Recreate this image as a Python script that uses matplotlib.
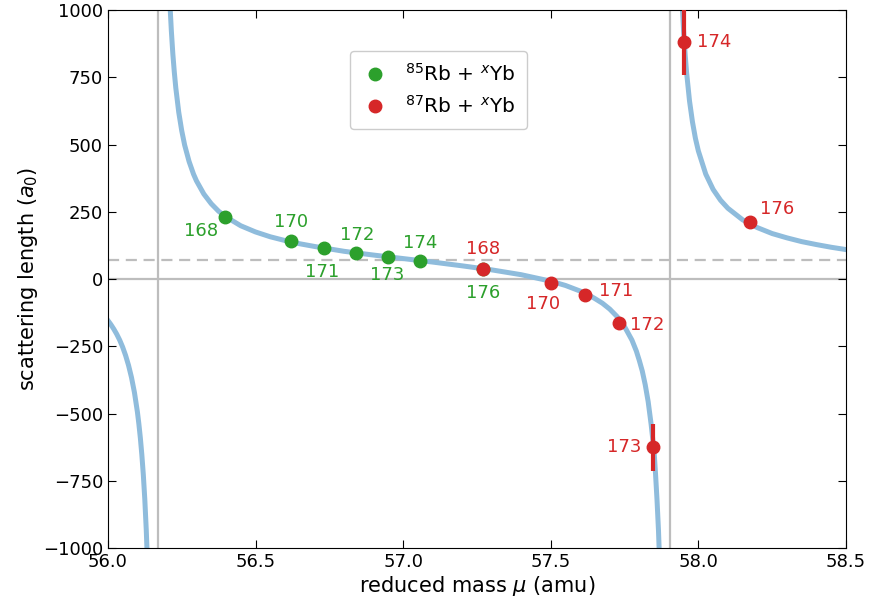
import numpy as np
import matplotlib.pyplot as plt
from matplotlib.lines import Line2D

# model curve, three branches separated by the two poles
mu_left = [55.98, 55.99, 56.00, 56.01, 56.02, 56.03, 56.04, 56.05, 56.06, 56.07,
           56.08, 56.09, 56.10, 56.105, 56.11, 56.115, 56.12, 56.125, 56.13, 56.135]
a_left = [-128, -140, -154, -169, -186, -205, -227, -253, -284, -321,
          -366, -422, -494, -539, -591, -653, -727, -818, -933, -1081]

mu_mid = [56.205, 56.21, 56.215, 56.22, 56.225, 56.23, 56.24, 56.25, 56.26, 56.275,
          56.29, 56.30, 56.325, 56.35, 56.375, 56.40, 56.45, 56.50, 56.55, 56.60,
          56.65, 56.70, 56.80, 56.90, 57.00, 57.10, 57.20, 57.30, 57.40, 57.50,
          57.55, 57.60, 57.625, 57.65, 57.675, 57.70, 57.725, 57.75, 57.775, 57.79,
          57.80, 57.81, 57.82, 57.83, 57.84, 57.85, 57.855, 57.86, 57.865, 57.872]
a_mid = [1158, 1026, 922, 837, 769, 711, 620, 552, 498, 437,
         390, 365, 316, 280, 252, 231, 198, 175, 157, 143,
         131, 121, 103, 89, 76, 63, 49, 34, 16, -8,
         -24, -45, -57, -73, -90, -112, -140, -177, -227, -268,
         -303, -342, -393, -456, -540, -640, -726, -822, -937, -1154]

mu_right = [57.940, 57.945, 57.95, 57.955, 57.96, 57.97, 57.98, 57.99, 58.00, 58.025,
            58.05, 58.075, 58.10, 58.15, 58.20, 58.25, 58.30, 58.35, 58.40, 58.45, 58.52]
a_right = [1158, 1026, 922, 838, 769, 662, 584, 523, 476, 390,
           333, 293, 263, 220, 191, 169, 153, 139, 128, 118, 106]

poles = [56.169, 57.904]
abar = 71

# 85Rb + xYb
rb85_mu = [56.396, 56.620, 56.732, 56.840, 56.949, 57.057, 57.270]
rb85_a = [230, 140, 115, 97, 82, 68, 37]
rb85_lab = ["168", "170", "171", "172", "173", "174", "176"]
rb85_off = [(-24, -14), (0, 19), (-2, -24), (1, 18), (-1, -18), (0, 18), (0, -24)]

# 87Rb + xYb
rb87_mu = [57.270, 57.500, 57.617, 57.730, 57.845, 57.952, 58.174]
rb87_a = [37, -14, -61, -162, -625, 880, 212]
rb87_err = [0, 0, 0, 0, 87, 120, 0]
rb87_lab = ["168", "170", "171", "172", "173", "174", "176"]
rb87_off = [(0, 20), (-8, -21), (31, 4), (29, -2), (-28, 0), (30, 0), (27, 13)]

green = "#2ca02c"
red = "#d62728"

fig = plt.figure(figsize=(8.7, 6.1), dpi=100)
ax = fig.add_axes([0.124, 0.1016, 0.8484, 0.882])

for p in poles:
    ax.axvline(p, color="#bdbdbd", lw=1.6, zorder=1)
ax.axhline(0, color="#bdbdbd", lw=1.6, zorder=1)
ax.axhline(abar, color="#bdbdbd", lw=1.6, ls=(0, (5, 3)), zorder=1)

for xs, ys in [(mu_left, a_left), (mu_mid, a_mid), (mu_right, a_right)]:
    ax.plot(xs, ys, color="#8fbcdc", lw=3.6, zorder=2)

ax.plot(rb85_mu, rb85_a, "o", color=green, ms=9, ls="none", zorder=4)
ax.errorbar(rb87_mu, rb87_a, yerr=rb87_err, fmt="o", color=red, ms=9,
            elinewidth=3, capsize=0, zorder=5)

for x, y, s, off in zip(rb85_mu, rb85_a, rb85_lab, rb85_off):
    ax.annotate(s, (x, y), xytext=off, textcoords="offset pixels", color=green,
                fontsize=13, ha="center", va="center", zorder=6)
for x, y, s, off in zip(rb87_mu, rb87_a, rb87_lab, rb87_off):
    ax.annotate(s, (x, y), xytext=off, textcoords="offset pixels", color=red,
                fontsize=13, ha="center", va="center", zorder=6)

ax.set_xlim(56.0, 58.5)
ax.set_ylim(-1000, 1000)
ax.set_xticks(np.arange(56.0, 58.51, 0.5))
ax.set_yticks(np.arange(-1000, 1001, 250))
ax.tick_params(direction="in", top=True, right=True, length=6, labelsize=13)
ax.set_xlabel(r"reduced mass $\mu$ (amu)", fontsize=15, labelpad=2)
ax.set_ylabel(r"scattering length ($a_0$)", fontsize=15, labelpad=2)

handles = [Line2D([], [], marker="o", color=green, ms=9, ls="none"),
           Line2D([], [], marker="o", color=red, ms=9, ls="none")]
labels = [r"$^{85}$Rb + $^{x}$Yb", r"$^{87}$Rb + $^{x}$Yb"]
ax.legend(handles, labels, loc="upper left", bbox_to_anchor=(0.315, 0.943),
          fontsize=14.5, handlelength=1.2, handletextpad=0.9, borderpad=0.6,
          framealpha=1, edgecolor="#cccccc")

fig.savefig("out.png", dpi=100)
